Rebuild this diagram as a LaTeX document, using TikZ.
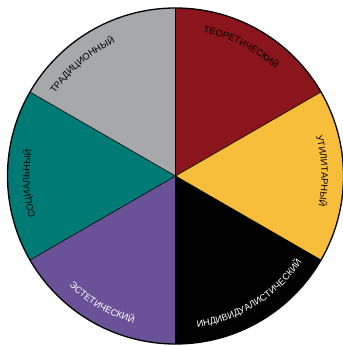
\documentclass[tikz,border=0pt]{standalone}
\usepackage{fontspec}
\setmainfont{Liberation Sans}
\usetikzlibrary{decorations.text,calc}
\definecolor{cred}{RGB}{139,21,28}
\definecolor{cyellow}{RGB}{246,190,58}
\definecolor{cpurple}{RGB}{106,82,152}
\definecolor{cteal}{RGB}{0,122,117}
\definecolor{cgray}{RGB}{167,168,170}
\newcommand\lblfont{\fontsize{9.3}{11}\selectfont}
\tikzset{
  sector/.style={line width=0.6bp, draw=black},
  outward/.style={decorate, decoration={text along path, text align=center, text color=#1}},
}
\begin{document}
\begin{tikzpicture}[x=1bp,y=1bp]
\useasboundingbox (0,0) rectangle (343,346);
\coordinate (c) at (175.5,170);
\def\R{168}
\def\rin{146}
\def\rout{153}
% sectors
\fill[cred]    (c) -- ++(90:\R)  arc[start angle=90,  end angle=30,  radius=\R] -- cycle;
\fill[cyellow] (c) -- ++(30:\R)  arc[start angle=30,  end angle=-30, radius=\R] -- cycle;
\fill[black]   (c) -- ++(-30:\R) arc[start angle=-30, end angle=-90, radius=\R] -- cycle;
\fill[cpurple] (c) -- ++(-90:\R) arc[start angle=-90, end angle=-150,radius=\R] -- cycle;
\fill[cteal]   (c) -- ++(210:\R) arc[start angle=210, end angle=150, radius=\R] -- cycle;
\fill[cgray]   (c) -- ++(150:\R) arc[start angle=150, end angle=90,  radius=\R] -- cycle;
% dividers
\foreach \a in {90,30,-30,-90,-150,150}
  \draw[sector] (c) -- ++(\a:\R);
\draw[line width=1.3bp] (c) circle[radius=\R];
% labels (clockwise, tops outward)
\path[decorate, decoration={text along path, text align=center, text color=black,
  text={|\lblfont|ТЕОРЕТИЧЕСКИЙ}}]
  ($(c)+(103:\rin)$) arc[start angle=103, end angle=23, radius=\rin];
\path[decorate, decoration={text along path, text align=center, text color=black,
  text={|\lblfont|УТИЛИТАРНЫЙ}}]
  ($(c)+(42:\rin)$) arc[start angle=42, end angle=-38, radius=\rin];
\path[decorate, decoration={text along path, text align=center, text color=black,
  text={|\lblfont|СОЦИАЛЬНЫЙ}}]
  ($(c)+(223:\rin)$) arc[start angle=223, end angle=143, radius=\rin];
\path[decorate, decoration={text along path, text align=center, text color=black,
  text={|\lblfont|ТРАДИЦИОННЫЙ}}]
  ($(c)+(170:\rin)$) arc[start angle=170, end angle=90, radius=\rin];
% labels (counterclockwise, tops inward)
\path[decorate, decoration={text along path, text align=center, text color=white,
  text={|\lblfont|ИНДИВИДУАЛИСТИЧЕСКИЙ}}]
  ($(c)+(-98:\rout)$) arc[start angle=-98, end angle=-18, radius=\rout];
\path[decorate, decoration={text along path, text align=center, text color=white,
  text={|\lblfont|ЭСТЕТИЧЕСКИЙ}}]
  ($(c)+(-160:\rout)$) arc[start angle=-160, end angle=-80, radius=\rout];
\end{tikzpicture}
\end{document}
